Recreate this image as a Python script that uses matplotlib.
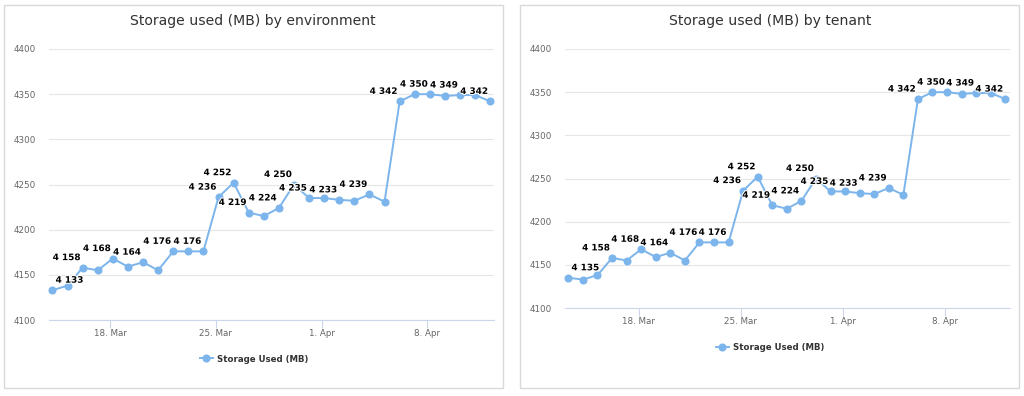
import numpy as np
import pandas as pd
import matplotlib
matplotlib.use("Agg")
import matplotlib.pyplot as plt
import matplotlib.dates as mdates
import matplotlib.patheffects as pe
from matplotlib.lines import Line2D
from matplotlib.patches import Rectangle

# daily storage readings (MB)
env_dates = pd.date_range("2019-03-14 04:00", periods=30, freq="D")
env_values = [4133, 4138, 4158, 4155, 4168, 4159, 4164, 4155, 4176, 4176,
              4176, 4236, 4252, 4219, 4215, 4224, 4250, 4235, 4235, 4233,
              4232, 4239, 4231, 4342, 4350, 4350, 4348, 4349, 4349, 4342]
env_labeled = [0, 2, 4, 6, 8, 10, 11, 12, 13, 15, 16, 17, 19, 21, 23, 25, 27, 29]

tenant_dates = pd.date_range("2019-03-13 04:00", periods=31, freq="D")
tenant_values = [4135, 4133, 4138, 4158, 4155, 4168, 4159, 4164, 4155, 4176,
                 4176, 4176, 4236, 4252, 4219, 4215, 4224, 4250, 4235, 4235,
                 4233, 4232, 4239, 4231, 4342, 4350, 4350, 4348, 4349, 4349, 4342]
tenant_labeled = [0, 3, 5, 7, 9, 11, 12, 13, 14, 16, 17, 18, 20, 22, 24, 26, 28, 30]

tick_dates = pd.to_datetime(["2019-03-18", "2019-03-25", "2019-04-01", "2019-04-08"])
tick_labels = ["18. Mar", "25. Mar", "1. Apr", "8. Apr"]
y_ticks = [4100, 4150, 4200, 4250, 4300, 4350, 4400]

W, H = 1024, 396
LINE = "#7cb5ec"


def box(l, t, r, b):
    return [l / W, 1 - b / H, (r - l) / W, (b - t) / H]


def panel(fig, title, dates, values, labeled, frame, plot, pad, title_xy, legend_xy):
    fig.patches.append(Rectangle((frame[0] / W, 1 - frame[3] / H),
                                 (frame[2] - frame[0]) / W, (frame[3] - frame[1]) / H,
                                 transform=fig.transFigure, fill=False,
                                 edgecolor="#d9d9d9", linewidth=1))
    ax = fig.add_axes(box(*plot))
    ax.plot(dates, values, color=LINE, linewidth=1.4, marker="o",
            markersize=4.8, zorder=3, clip_on=False)

    for i in labeled:
        dx = 17 if i == 0 else -16
        ax.annotate(f"{values[i] // 1000} {values[i] % 1000:03d}", (dates[i], values[i]),
                    xytext=(dx, 10), textcoords="offset pixels",
                    ha="center", va="center", fontsize=6.4, fontweight="bold",
                    color="black", zorder=4,
                    path_effects=[pe.withStroke(linewidth=1.5, foreground="white")])

    ax.set_xlim(dates[0] - pd.Timedelta(hours=5.5), dates[-1] + pd.Timedelta(hours=pad))
    ax.set_ylim(4100, 4400)
    ax.set_yticks(y_ticks)
    ax.set_xticks(tick_dates)
    ax.set_xticklabels(tick_labels)
    ax.grid(axis="y", color="#e6e6e6", linewidth=0.8)
    ax.set_axisbelow(True)
    for s in ["top", "right", "left"]:
        ax.spines[s].set_visible(False)
    ax.spines["bottom"].set_color("#ccd6eb")
    ax.spines["bottom"].set_zorder(2)
    ax.tick_params(axis="x", length=5.8, width=0.8, color="#ccd6eb",
                   labelcolor="#666666", labelsize=6.3, pad=1)
    ax.tick_params(axis="y", length=0, labelcolor="#666666", labelsize=6.3, pad=9.4)

    fig.text(title_xy[0] / W, 1 - title_xy[1] / H, title, ha="center", va="center",
             fontsize=10.1, color="#333333")
    h = Line2D([], [], color=LINE, linewidth=1.4, marker="o", markersize=4.8)
    leg = ax.legend([h], ["Storage Used (MB)"], loc="center",
                    bbox_to_anchor=(legend_xy[0] / W, 1 - legend_xy[1] / H),
                    bbox_transform=fig.transFigure, frameon=False,
                    handlelength=1.5, handletextpad=0.45,
                    prop={"size": 6.2, "weight": "bold"})
    for t in leg.get_texts():
        t.set_color("#333333")
    return ax


fig = plt.figure(figsize=(W / 100, H / 100), dpi=100)
plt.rcParams["font.family"] = ["DejaVu Sans"]

panel(fig, "Storage used (MB) by environment", env_dates, env_values, env_labeled,
      (4, 5, 503, 388), (49, 49, 494, 320), 6, (253, 21), (254, 359))
panel(fig, "Storage used (MB) by tenant", tenant_dates, tenant_values, tenant_labeled,
      (520, 5, 1019, 388), (565, 49, 1010, 308), 7.7, (770, 21), (770, 348))

fig.savefig("out.png", dpi=100)
